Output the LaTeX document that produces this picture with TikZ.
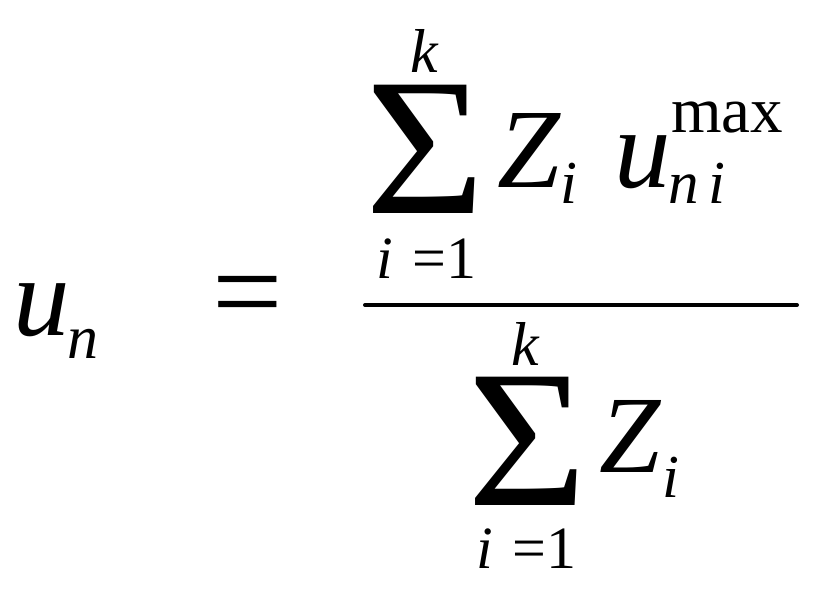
\documentclass[tikz,border=0pt]{standalone}
\usepackage{fontspec}
\setmainfont{Liberation Serif}
\usepackage{tikz}

\newcommand{\fs}[1]{\fontsize{#1}{#1}\selectfont}
\newcommand{\bigsum}{\fs{196}\scalebox{1.05}[1]{Σ}}

\begin{document}
\begin{tikzpicture}[x=1pt, y=-1pt,
    sym/.style={inner sep=0pt, anchor=base west},
    var/.style={sym, font=\itshape}
  ]
  \useasboundingbox (0,0) rectangle (819,610);

  % left hand side
  \node[var] (u) at (13,335) {\fs{113}u};
  \node[var] (un) at (67,358) {\fs{62}n};
  \node[sym] (eq) at (212,333) {\fs{125}=};

  % numerator
  \node[sym] (sumA) at (365,213) {\bigsum};
  \node[var] (kA) at (410,72) {\fs{62}k};
  \node[var] (iA) at (376,278) {\fs{60}i};
  \node[sym] (oneA) at (412,278) {\fs{60}=1};
  \node[var] (ZA) at (497,187) {\fs{113}Z};
  \node[var] (ZiA) at (560,203) {\fs{61}i};
  \node[var] (uA) at (614,187) {\fs{113}u};
  \node[sym] (max) at (671,132) {\fs{65}max};
  \node[var] (ni) at (668,203) {\fs{61}n\,i};

  % fraction bar
  \coordinate (barL) at (365,305);
  \coordinate (barR) at (797,305);
  \draw[line width=4pt, line cap=round] (barL) -- (barR);

  % denominator
  \node[sym] (sumB) at (467,505) {\bigsum};
  \node[var] (kB) at (511,365) {\fs{62}k};
  \node[var] (iB) at (476,568) {\fs{60}i};
  \node[sym] (oneB) at (512,568) {\fs{60}=1};
  \node[var] (ZB) at (599,472) {\fs{110}Z};
  \node[var] (ZiB) at (662,497) {\fs{61}i};
\end{tikzpicture}
\end{document}
